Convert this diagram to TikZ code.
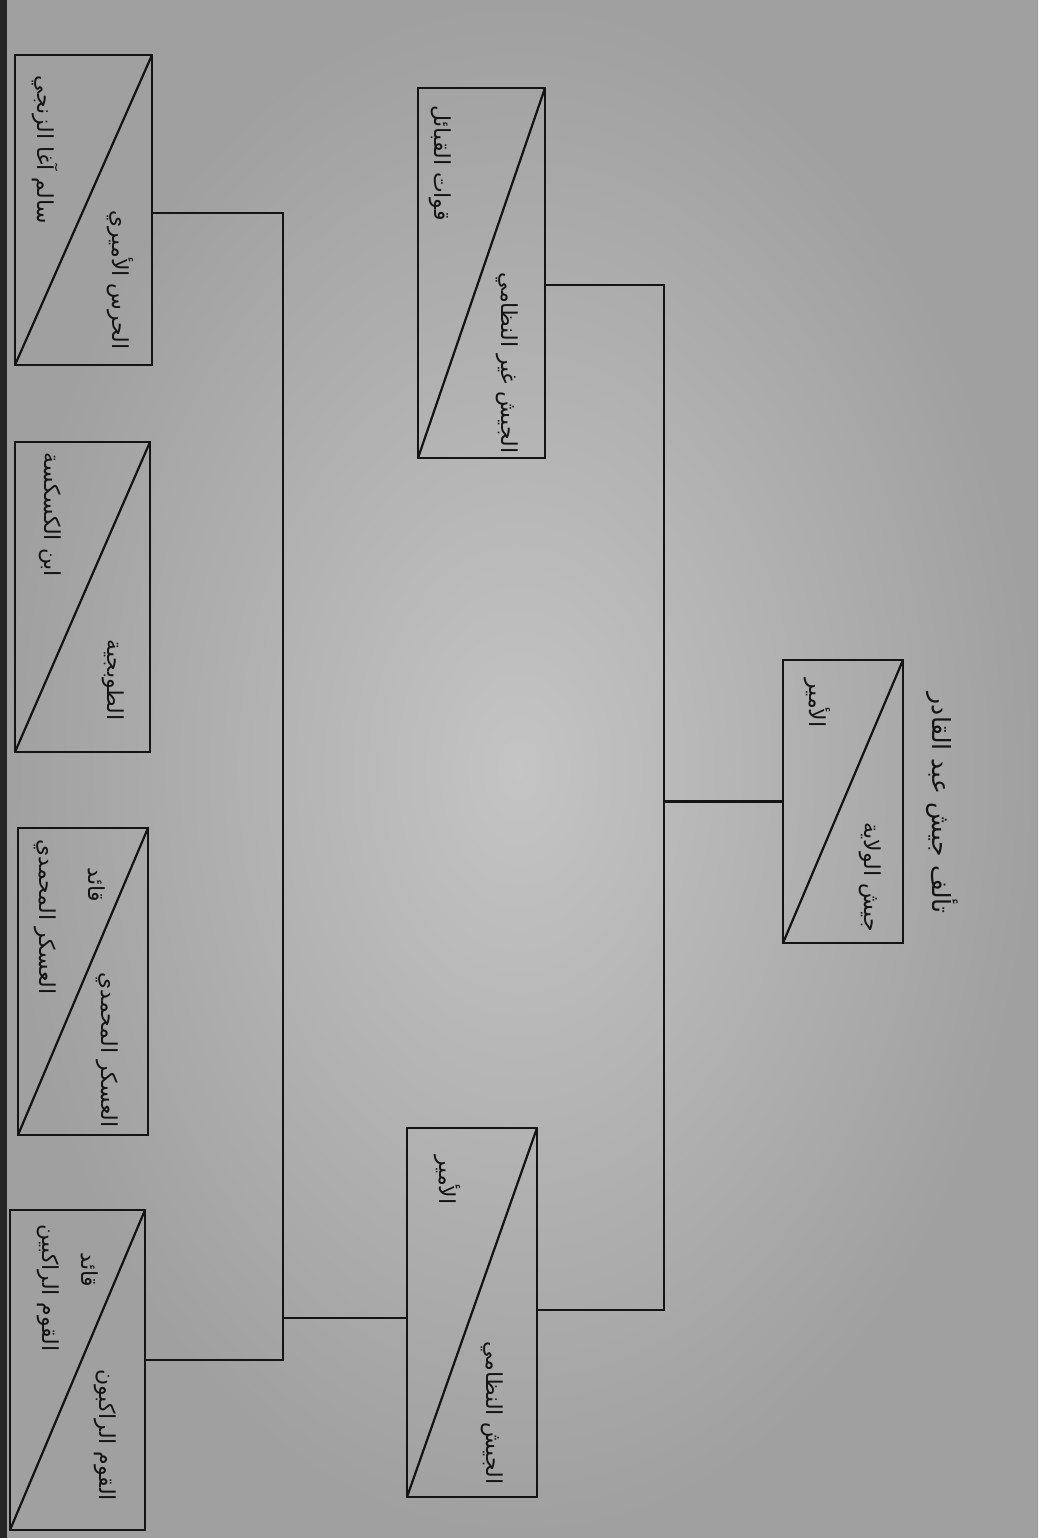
\documentclass[tikz,border=0pt]{standalone}
\usepackage{fontspec}
\newfontfamily\arabicfont[Script=Arabic]{DejaVu Sans}
\TeXXeTstate=1
\definecolor{paperlight}{RGB}{196,196,196}
\definecolor{paperdark}{RGB}{160,160,160}
\definecolor{ink}{RGB}{20,20,20}
\tikzset{
  box/.style={draw=ink, line width=2.6pt, rectangle, inner sep=0pt, outer sep=0pt},
  diag/.style={draw=ink, line width=2.2pt},
  conn/.style={draw=ink, line width=2.6pt, line cap=rect},
  lbl/.style={text=ink, inner sep=0pt, rotate=-90, font=\arabicfont\fontsize{22}{26}\selectfont},
  ttl/.style={text=ink, inner sep=0pt, rotate=-90, font=\arabicfont\fontsize{25}{29}\selectfont}
}
\begin{document}
\begin{tikzpicture}[x=1pt,y=-1pt]
\useasboundingbox (0,0) rectangle (1038,1538);
\shade[inner color=paperlight, outer color=paperdark] (0,0) rectangle (1038,1538);
\fill[black!85] (0,0) rectangle (7,1538);

% root box
\node[box, minimum width=120pt, minimum height=283pt] (G) at (843,801.5) {};
\draw[diag] (G.north east) -- (G.south west);
\node[lbl] (g1) at (870,877) {\beginR جيش الولاية\endR};
\node[lbl] (g2) at (817,703) {\beginR الأمير\endR};
\node[ttl] (title) at (942,803) {\beginR تألف جيش عبد القادر\endR};

% second level
\node[box, minimum width=127pt, minimum height=370pt] (E) at (481.5,273) {};
\draw[diag] (E.north east) -- (E.south west);
\node[lbl] (e1) at (507,363) {\beginR الجيش غير النظامي\endR};
\node[lbl] (e2) at (440,163) {\beginR قوات القبائل\endR};

\node[box, minimum width=130pt, minimum height=369pt] (F) at (472,1312.5) {};
\draw[diag] (F.north east) -- (F.south west);
\node[lbl] (f1) at (492,1413) {\beginR الجيش النظامي\endR};
\node[lbl] (f2) at (447,1180) {\beginR الأمير\endR};

% third level
\node[box, minimum width=137pt, minimum height=310pt] (A) at (83.5,210) {};
\draw[diag] (A.north east) -- (A.south west);
\node[lbl] (a1) at (120,280) {\beginR الحرس الأميري\endR};
\node[lbl] (a2) at (45,150) {\beginR سالم آغا الزنجي\endR};

\node[box, minimum width=135pt, minimum height=310pt] (B) at (82.5,597) {};
\draw[diag] (B.north east) -- (B.south west);
\node[lbl] (b1) at (113,680) {\beginR الطوبجية\endR};
\node[lbl] (b2) at (50,515) {\beginR ابن الكسكسة\endR};

\node[box, minimum width=130pt, minimum height=307pt] (C) at (83,981.5) {};
\draw[diag] (C.north east) -- (C.south west);
\node[lbl] (c1) at (107,1050) {\beginR العسكر المحمدي\endR};
\node[lbl] (c2) at (97,885) {\beginR قائد\endR};
\node[lbl] (c3) at (45,917) {\beginR العسكر المحمدي\endR};

\node[box, minimum width=135pt, minimum height=320pt] (D) at (77.5,1370) {};
\draw[diag] (D.north east) -- (D.south west);
\node[lbl] (d1) at (105,1435) {\beginR القوم الراكبون\endR};
\node[lbl] (d2) at (90,1270) {\beginR قائد\endR};
\node[lbl] (d3) at (48,1288) {\beginR القوم الراكبين\endR};

% connectors
\coordinate (u1) at (664,285);
\coordinate (u2) at (664,1310);
\draw[conn] (G.west) -- (G.west -| u1);
\draw[conn] (E.east |- u1) -- (u1) -- (u2) -- (F.east |- u2);

\coordinate (l1) at (283,213);
\coordinate (l2) at (283,1360);
\coordinate (lm) at (283,1318);
\draw[conn] (A.east |- l1) -- (l1) -- (l2) -- (D.east |- l2);
\draw[conn] (F.west |- lm) -- (lm);
\end{tikzpicture}
\end{document}
